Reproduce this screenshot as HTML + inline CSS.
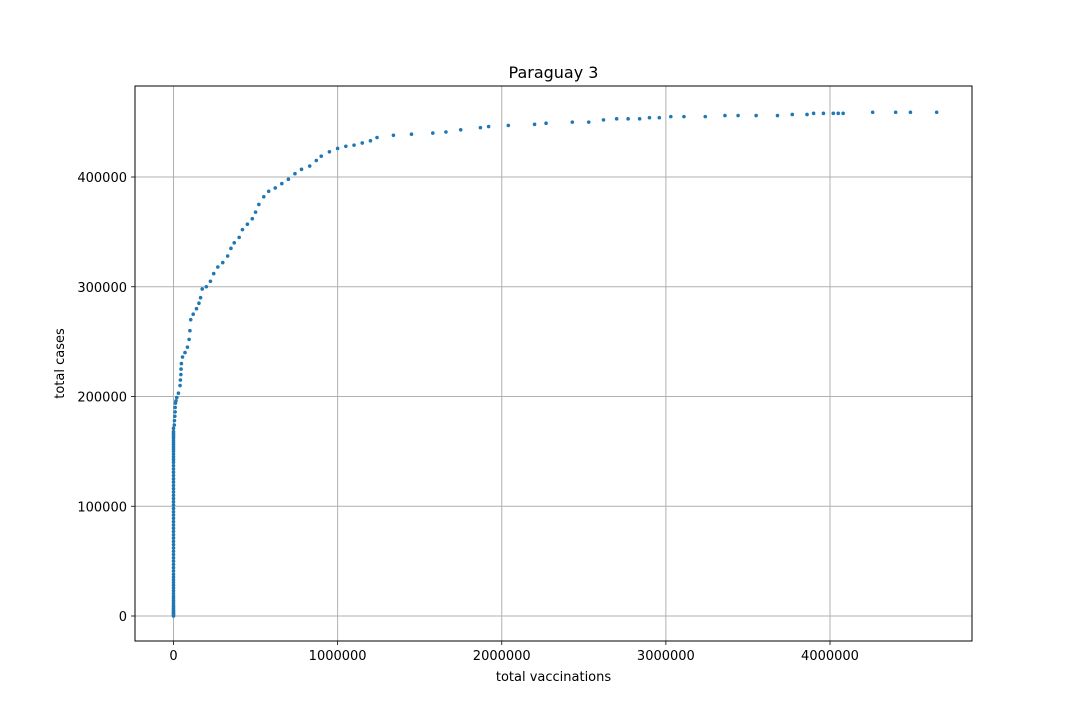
<!DOCTYPE html>
<html><head><meta charset="utf-8"><style>
body{margin:0;background:#fff;}
svg text{font-family:"DejaVu Sans","Liberation Sans",sans-serif;font-size:13px;fill:#000;}
</style></head><body>
<svg id="chart" width="1080" height="720" xmlns="http://www.w3.org/2000/svg">
<rect width="1080" height="720" fill="#fff"/>
<g id="grid"></g><g id="pts"></g><g id="axes"></g>
</svg>
<script>
const xTicks=[0,1000000,2000000,3000000,4000000];
const yTicks=[0,100000,200000,300000,400000];
const vaccinations=[0,0,0,0,0,0,0,0,0,0,0,0,0,0,0,0,0,0,0,0,0,0,0,0,0,0,0,0,0,0,0,0,0,0,0,0,
0,0,0,0,0,0,0,0,0,0,0,0,0,0,0,0,0,0,0,0,0,0,0,0,0,0,0,0,0,0,0,0,0,0,
5000,6000,8000,10000,10000,12000,15000,20000,30000,40000,42000,45000,46000,48000,55000,70000,85000,95000,100000,105000,120000,140000,155000,165000,175000,200000,225000,245000,270000,300000,330000,350000,370000,400000,420000,450000,480000,500000,520000,550000,580000,620000,660000,700000,740000,780000,830000,870000,900000,950000,1000000,1050000,1100000,1150000,1200000,1240000,1340000,1450000,1580000,1660000,1750000,1870000,1920000,2040000,2200000,2270000,2430000,2530000,2620000,2700000,2770000,2840000,2900000,2960000,3030000,3110000,3240000,3360000,3440000,3550000,3680000,3770000,3860000,3900000,3960000,4020000,4050000,4080000,4260000,4400000,4490000,4650000];
const cases=[0,2000,4000,7000,10000,14000,18000,23000,28000,33000,38000,44000,50000,56000,62000,68000,74000,80000,86000,92000,98000,104000,110000,116000,122000,128000,134000,140000,145000,150000,154000,158000,162000,165000,168000,171000,
1000,3000,5500,8500,12000,16000,20500,25500,30500,35500,41000,47000,53000,59000,65000,71000,77000,83000,89000,95000,101000,107000,113000,119000,125000,131000,137000,142500,147500,152000,156000,160000,163500,166500,
174000,178000,182000,186000,190000,194000,196000,199000,203000,210000,215000,220000,225000,230000,236000,240000,245000,252000,260000,270000,275000,280000,285000,290000,298000,300000,305000,312000,318000,322000,328000,335000,340000,345000,352000,357000,362000,368000,375000,382000,387000,390000,394000,398000,403000,407000,410000,415000,419000,423000,426000,428000,429000,431000,433000,436000,438000,439000,440000,441000,443000,445000,446000,447000,448000,449000,450000,450000,452000,453000,453000,453000,454000,454000,455000,455000,455000,456000,456000,456000,456000,457000,457000,458000,458000,458000,458000,458000,459000,459000,459000,459000];
const L=135,R=972,T=86,B=641;
const X=v=>173.5+v*(830-173.5)/4000000;
const Y=v=>616-v*(616-177)/400000;
const NS="http://www.w3.org/2000/svg";
function mk(t,a,p){const e=document.createElementNS(NS,t);for(const k in a)e.setAttribute(k,a[k]);p.appendChild(e);return e;}
const grid=document.getElementById('grid'),pts=document.getElementById('pts'),axes=document.getElementById('axes');
xTicks.forEach(v=>{const x=X(v);
const g=mk('line',{x1:x,x2:x,y1:T,y2:B,stroke:'#b0b0b0','stroke-width':1},grid);


mk('line',{x1:x,x2:x,y1:B,y2:B+4,stroke:'#000','stroke-width':0.8},axes);
const t=mk('text',{x:x,y:B+19,'text-anchor':'middle'},axes);t.textContent=v;

});
yTicks.forEach(v=>{const y=Y(v);
const g=mk('line',{x1:L,x2:R,y1:y,y2:y,stroke:'#b0b0b0','stroke-width':1},grid);


mk('line',{x1:L-4,x2:L,y1:y,y2:y,stroke:'#000','stroke-width':0.8},axes);
const t=mk('text',{x:L-8,y:y+5,'text-anchor':'end'},axes);t.textContent=v;

});
vaccinations.forEach((v,i)=>{
const c=mk('circle',{cx:X(v),cy:Y(cases[i]),r:1.8,fill:'#1f77b4'},pts);

});
const f=mk('rect',{x:L,y:T,width:R-L,height:B-T,fill:'none',stroke:'#000','stroke-width':1},axes);


const ti=mk('text',{x:(L+R)/2,y:78,'text-anchor':'middle'},axes);ti.textContent='Paraguay 3';
ti.setAttribute('style','font-size:16px');


const xl=mk('text',{x:(L+R)/2,y:681,'text-anchor':'middle'},axes);xl.textContent='total vaccinations';


const yl=mk('text',{x:64,y:(T+B)/2,'text-anchor':'middle',transform:'rotate(-90 64 '+((T+B)/2)+')'},axes);yl.textContent='total cases';


</script>
</body></html>
